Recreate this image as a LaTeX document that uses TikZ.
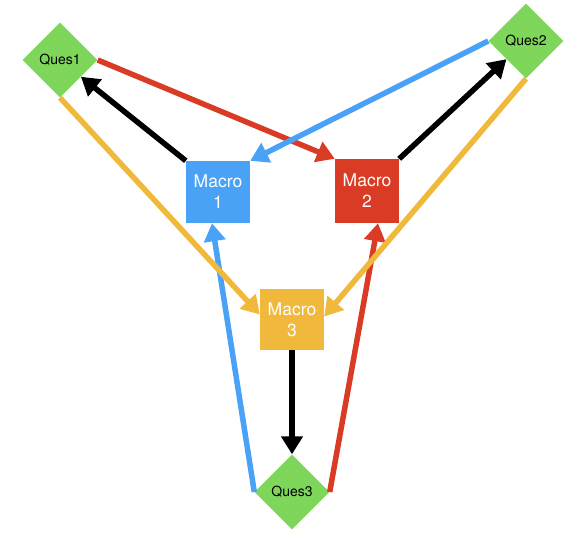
\documentclass[tikz,border=0pt]{standalone}
\usepackage{fontspec}
\setmainfont{TeX Gyre Heros}
\usetikzlibrary{shapes.geometric,arrows.meta,calc}
\definecolor{mblue}{HTML}{4AA2F6}
\definecolor{mred}{HTML}{DA3B25}
\definecolor{myellow}{HTML}{F0B93C}
\definecolor{mgreen}{HTML}{7ED65A}
\tikzset{
  ques/.style={diamond, aspect=1, fill=mgreen, minimum width=75pt, minimum height=75pt, inner sep=0pt, font=\fontsize{14}{16}\selectfont},
  macro/.style={rectangle, minimum width=64pt, minimum height=62pt, inner sep=0pt, text=white, align=center, font=\fontsize{17.5}{21}\selectfont},
  conn/.style={line width=5.5pt, -{Triangle[length=18pt,width=21pt]}, shorten >=0pt},
}
\begin{document}
\begin{tikzpicture}[x=1pt,y=-1pt]
\useasboundingbox (0,0) rectangle (586,537);
\node[ques] (q1) at (60,60) {Ques1};
\node[ques] (q2) at (526,41) {Ques2};
\node[ques] (q3) at (292,492) {Ques3};
\node[macro, fill=mblue] (m1) at (218,192) {Macro\\1};
\node[macro, fill=mred, minimum height=64pt] (m2) at (367,191) {Macro\\2};
\node[macro, fill=myellow, minimum height=61pt] (m3) at (292,319.5) {Macro\\3};
% black
\draw[conn, black] (m1.north west) -- (q1);
\draw[conn, black] (m2.north east) -- (q2);
\draw[conn, black] (m3.south) -- (q3.north);
% red
\draw[conn, mred] (q1.east) -- (m2.north west);
\draw[conn, mred] (q3.east) -- ([xshift=11pt]m2.south);
% blue
\draw[conn, mblue] (q2.west) -- (m1.north east);
\draw[conn, mblue] (q3.west) -- ([xshift=-6pt]m1.south);
% yellow
\draw[conn, myellow] (q1.south) -- ([yshift=5pt]m3.west);
\draw[conn, myellow] (q2.south) -- ([yshift=3pt]m3.east);
\end{tikzpicture}
\end{document}
